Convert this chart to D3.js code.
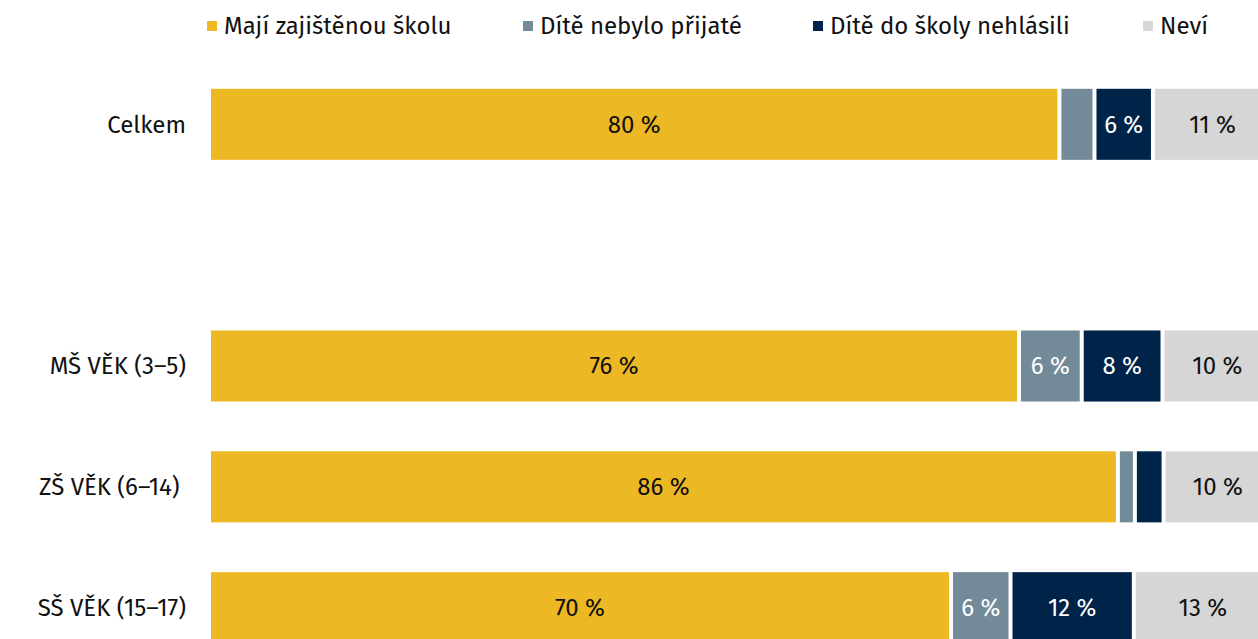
<!DOCTYPE html>
<html lang="cs">
<head>
<meta charset="utf-8">
<script src="https://cdn.jsdelivr.net/npm/d3@7"></script>
<style>
  html, body { margin: 0; padding: 0; background: #fff; overflow: hidden; }
  text { font-family: "Fira Sans", "Noto Sans", sans-serif; font-size: 24px; white-space: pre; }
</style>
</head>
<body>
<div id="chart"></div>
<script>
// Données
const categories = ["Celkem", "", "MŠ VĚK (3–5)", "ZŠ VĚK (6–14) ", "SŠ VĚK (15–17)"];
const seriesNames = ["Mají zajištěnou školu", "Dítě nebylo přijaté", "Dítě do školy nehlásili", "Neví"];
const zajisteno = [80.0, null, 76.2, 85.5, 69.8];
const neprijato = [3.3, null, 5.9, 1.6, 5.6];
const nehlasili = [5.5, null, 7.6, 2.7, 11.6];
const nevi = [11.2, null, 10.3, 10.2, 13.0];

const colors = ["#ecb824", "#738a99", "#002449", "#d6d6d6"];
const labelColors = ["#111", "#fff", "#fff", "#111"];

const width = 1258, height = 639;

const svg = d3.select("#chart")
    .append("svg")
    .attr("width", width)
    .attr("height", height);

// Échelles
const x = d3.scaleLinear()
    .domain([0, 100])
    .range([209, 1272]);

const y = d3.scaleBand()
    .domain(categories)
    .range([39, 693])
    .padding(0.412);

// Empilement
const rows = categories.map((c, i) => ({
    cat: c,
    values: [zajisteno[i], neprijato[i], nehlasili[i], nevi[i]]
})).filter(r => r.values[0] !== null);

rows.forEach(r => {
    let acc = 0;
    r.segs = r.values.map((v, k) => {
        const s = { k: k, v: v, x0: acc, x1: acc + v };
        acc += v;
        return s;
    });
});

const rowG = svg.selectAll(".row")
    .data(rows)
  .enter().append("g")
    .attr("class", "row")
    .attr("transform", d => "translate(0," + y(d.cat) + ")");

rowG.selectAll("rect")
    .data(d => d.segs)
  .enter().append("rect")
    .attr("x", d => x(d.x0) + 2)
    .attr("width", d => x(d.x1) - x(d.x0) - 4)
    .attr("y", 0)
    .attr("height", y.bandwidth())
    .attr("fill", d => colors[d.k]);

rowG.selectAll(".val")
    .data(d => d.segs.filter(s => s.v >= 4))
  .enter().append("text")
    .attr("class", "val")
    .attr("x", d => (x(d.x0) + x(d.x1)) / 2)
    .attr("y", y.bandwidth() / 2)
    .attr("dy", "0.35em")
    .attr("text-anchor", "middle")
    .attr("fill", d => labelColors[d.k])
    .text(d => Math.round(d.v) + " %");

// Axe des catégories
rowG.append("text")
    .attr("x", 186)
    .attr("y", y.bandwidth() / 2)
    .attr("dy", "0.35em")
    .attr("text-anchor", "end")
    .attr("fill", "#111")
    .text(d => d.cat);

// Légende
const legendX = [207, 523, 813, 1143];
const legend = svg.selectAll(".legend")
    .data(seriesNames)
  .enter().append("g")
    .attr("class", "legend")
    .attr("transform", (d, i) => "translate(" + legendX[i] + ",26)");

legend.append("rect")
    .attr("x", 0)
    .attr("y", -5)
    .attr("width", 10)
    .attr("height", 10)
    .attr("fill", (d, i) => colors[i]);

legend.append("text")
    .attr("x", 17)
    .attr("dy", "0.35em")
    .attr("fill", "#111")
    .text(d => d);
</script>
</body>
</html>
